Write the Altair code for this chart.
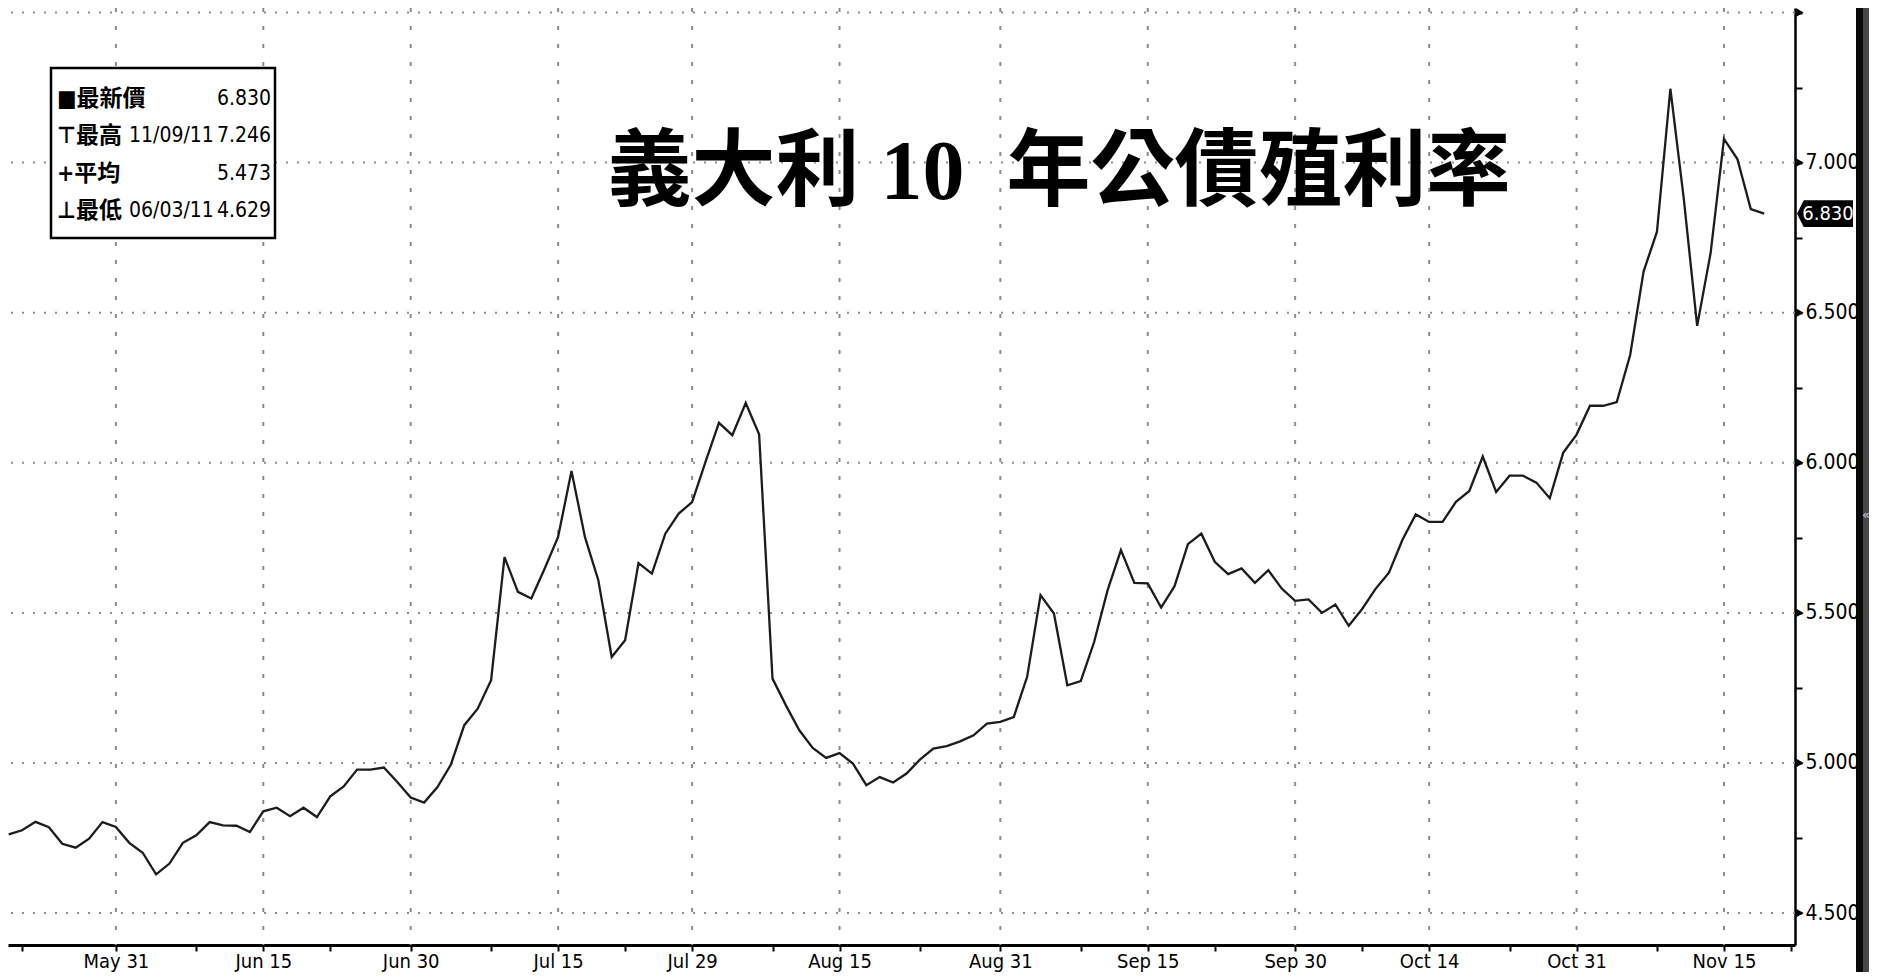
import altair as alt
import pandas as pd

# ---------------- data (business-day index relative to May 31, 2011) ----------------
first_day = -8
yields = [
    4.762, 4.776, 4.804, 4.786, 4.731, 4.718, 4.748, 4.803,
    4.787, 4.734, 4.701, 4.629, 4.665, 4.734, 4.759, 4.803, 4.792, 4.791,
    4.770, 4.839, 4.851, 4.823, 4.851, 4.820, 4.889, 4.922, 4.978, 4.978,
    4.985, 4.937, 4.885, 4.868, 4.920, 4.995, 5.126, 5.181, 5.276, 5.686,
    5.570, 5.548, 5.648, 5.753, 5.973, 5.753, 5.609, 5.353, 5.409, 5.666,
    5.631, 5.764, 5.831, 5.869, 6.003, 6.133, 6.092, 6.199, 6.095, 5.281,
    5.192, 5.109, 5.050, 5.017, 5.033, 4.998, 4.926, 4.953, 4.935, 4.965,
    5.011, 5.048, 5.056, 5.072, 5.092, 5.131, 5.137, 5.153, 5.287, 5.559,
    5.498, 5.259, 5.273, 5.403, 5.575, 5.709, 5.600, 5.598, 5.518, 5.589,
    5.729, 5.764, 5.670, 5.629, 5.648, 5.600, 5.642, 5.581, 5.540, 5.545,
    5.500, 5.528, 5.457, 5.513, 5.580, 5.634, 5.743, 5.828, 5.803, 5.803,
    5.870, 5.906, 6.021, 5.903, 5.957, 5.957, 5.934, 5.882, 6.033, 6.094,
    6.190, 6.190, 6.202, 6.359, 6.637, 6.770, 7.246, 6.880, 6.456, 6.698,
    7.079, 7.012, 6.845, 6.830,
]
day_index = list(range(first_day, first_day + len(yields)))

major_pos = [0, 11, 22, 33, 43, 54, 66, 77, 88, 98, 109, 120]
major_labels = ["May 31", "Jun 15", "Jun 30", "Jul 15", "Jul 29", "Aug 15",
                "Aug 31", "Sep 15", "Sep 30", "Oct 14", "Oct 31", "Nov 15"]
minor_pos = [-7, 6, 16, 28, 38, 49, 60, 72, 82, 93, 104, 115, 125]

y_major = [4.5, 5.0, 5.5, 6.0, 6.5, 7.0, 7.5]
y_minor = [4.75, 5.25, 5.75, 6.25, 6.75, 7.25]

title_text = "義大利 10 \u00a0年公債殖利率"
legend_names = ["■最新價", "⊤最高", "+平均", "⊥最低"]
legend_dates = ["", "11/09/11", "", "06/03/11"]
legend_values = ["6.830", "7.246", "5.473", "4.629"]
last_value = 6.830

# ---------------- layout ----------------
W, H = 1787, 937              # plot area
TOTAL_W, TOTAL_H = 1861, 964  # whole svg (page margin 8px around)
NARROW = "Liberation Sans Narrow, DejaVu Sans Condensed, Arial Narrow, sans-serif"
CJK = "DejaVu Sans Condensed, Noto Sans CJK TC, sans-serif"

xs = alt.Scale(domain=[-8.05, 125.3], nice=False, zero=False)
ys = alt.Scale(domain=[4.3937, 7.515], nice=False, zero=False)

df = pd.DataFrame({"day": day_index, "yield": yields})
major_df = pd.DataFrame({"day": major_pos})
ymajor_df = pd.DataFrame({"yield": y_major})
one = pd.DataFrame({"a": [0]})

label_expr = " : ".join(
    f"datum.value == {p} ? '{l}'" for p, l in zip(major_pos, major_labels)
) + " : ''"
tick_values = sorted(major_pos + minor_pos)
y_tick_values = sorted(y_major + y_minor)

X_AXIS = alt.Axis(
    orient="bottom", values=tick_values, labelExpr=label_expr, grid=False,
    domainColor="black", domainWidth=3, tickColor="black", tickWidth=2,
    tickSize=6, labelFont=NARROW, labelFontSize=20, labelColor="black",
    labelPadding=0, labelOverlap=False, labelFlush=False, title="")
Y_AXIS = alt.Axis(
    orient="right", values=y_tick_values,
    labelExpr="(datum.value * 2) % 1 == 0 && datum.value < 7.4 ? format(datum.value, '.3f') : ''",
    grid=False, domainColor="black", domainWidth=2.5, tickColor="black",
    tickWidth=2, tickSize=7, labelFont=NARROW, labelFontSize=21,
    labelColor="black", labelPadding=3, labelOverlap=False, labelFlush=False,
    title="")

# vertical dotted gridlines
vgrid = alt.Chart(major_df).mark_rule(
    color="#8c8c8c", strokeWidth=2, strokeDash=[4, 14]
).encode(x=alt.X("day:Q", scale=xs, axis=X_AXIS))

# horizontal dotted gridlines
hgrid = alt.Chart(ymajor_df).mark_rule(
    color="#8c8c8c", strokeWidth=2, strokeDash=[2, 9]
).encode(y=alt.Y("yield:Q", scale=ys, axis=Y_AXIS))

line = alt.Chart(df).mark_line(color="#1c1c1c", strokeWidth=2.3).encode(
    x=alt.X("day:Q", scale=xs, axis=X_AXIS),
    y=alt.Y("yield:Q", scale=ys, axis=Y_AXIS),
)

# arrow heads at the major y ticks
arrows = alt.Chart(ymajor_df).mark_point(
    shape="triangle-right", filled=True, color="black", size=70, opacity=1
).encode(x=alt.value(W + 5), y=alt.Y("yield:Q", scale=ys, axis=Y_AXIS))

# latest value tag
tag_df = pd.DataFrame({"yield": [last_value], "label": [f"{last_value:.3f}"]})
tag_shape = "M -1 0 L -0.76 -0.48 L 1 -0.48 L 1 0.48 L -0.76 0.48 Z"
tag = alt.Chart(tag_df).mark_point(
    shape=tag_shape, filled=True, color="black", size=3136, opacity=1
).encode(x=alt.value(W + 30), y=alt.Y("yield:Q", scale=ys, axis=Y_AXIS))
tag_text = alt.Chart(tag_df).mark_text(
    color="white", font=NARROW, fontSize=20, align="center", baseline="middle"
).encode(x=alt.value(W + 33), y=alt.Y("yield:Q", scale=ys, axis=Y_AXIS),
         text="label:N")

# title
title = alt.Chart(one).mark_text(
    font="Liberation Serif, Noto Sans CJK TC, serif", fontSize=84,
    fontWeight="bold", color="black", align="center", baseline="middle"
).encode(x=alt.value(1051), y=alt.value(166), text=alt.value(title_text))

# legend box
box = alt.Chart(one).mark_rect(
    fill="white", stroke="black", strokeWidth=2.5
).encode(x=alt.value(43), x2=alt.value(267), y=alt.value(60), y2=alt.value(230))

legend_layers = []
row_y = [91, 128, 166, 203]
for name, date, val, yy in zip(legend_names, legend_dates, legend_values, row_y):
    legend_layers.append(alt.Chart(one).mark_text(
        font=CJK, fontSize=23, fontWeight="bold", color="black", align="left",
        baseline="middle"
    ).encode(x=alt.value(49), y=alt.value(yy), text=alt.value(name)))
    if date:
        legend_layers.append(alt.Chart(one).mark_text(
            font=NARROW, fontSize=21, color="black", align="left", baseline="middle"
        ).encode(x=alt.value(121), y=alt.value(yy), text=alt.value(date)))
    legend_layers.append(alt.Chart(one).mark_text(
        font=NARROW, fontSize=21, color="black", align="right", baseline="middle"
    ).encode(x=alt.value(263), y=alt.value(yy), text=alt.value(val)))

# dark strip at the right edge of the screen capture
strip1 = alt.Chart(one).mark_rect(fill="#0a0a0a").encode(
    x=alt.value(1848), x2=alt.value(1855), y=alt.value(-8), y2=alt.value(TOTAL_H))
strip2 = alt.Chart(one).mark_rect(fill="#46464b").encode(
    x=alt.value(1855), x2=alt.value(TOTAL_W), y=alt.value(-8), y2=alt.value(TOTAL_H))
strip_txt = alt.Chart(one).mark_text(color="#d0d0d0", fontSize=13, font="DejaVu Sans").encode(
    x=alt.value(1858), y=alt.value(507), text=alt.value("«"))

chart = alt.layer(
    vgrid, hgrid, line, arrows, tag, tag_text, title, box, *legend_layers,
    strip1, strip2, strip_txt
).properties(
    width=W, height=H,
    autosize=alt.AutoSizeParams(type="none"),
    padding={"left": 0, "top": 0, "right": TOTAL_W - W, "bottom": TOTAL_H - H},
    background="white"
).configure_view(stroke=None)

chart.save("out.html", embed_options={"renderer": "svg", "actions": False})
